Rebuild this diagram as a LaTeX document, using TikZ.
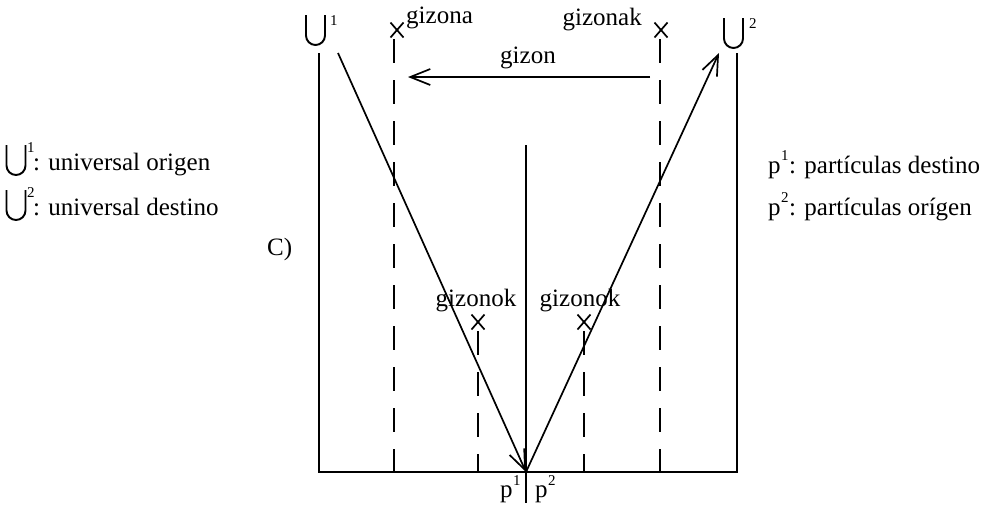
\documentclass[tikz,border=0pt]{standalone}
\usepackage{fontspec}
\setmainfont{Liberation Serif}
\usetikzlibrary{arrows.meta}
\begin{document}
\begin{tikzpicture}[x=1pt,y=-1pt,
  lbl/.style={inner sep=0pt, font=\fontsize{25}{30}\selectfont},
  supr/.style={inner sep=0pt, font=\fontsize{15}{18}\selectfont},
  ln/.style={line width=1.7pt},
  dsh/.style={line width=1.7pt, dash pattern=on 24pt off 17pt},
  arr/.style={line width=1.7pt, -{Straight Barb[length=20pt,width=16pt,line width=1.7pt]}},
  cupsym/.pic={\draw[line width=1.9pt] (-9.5,-15) -- (-9.5,5.5) arc[start angle=180,end angle=0,radius=9.5] -- (9.5,-15);},
  xmark/.pic={\draw[line width=1.7pt] (-6.5,-7.5) -- (6.5,7.5) (-6.5,7.5) -- (6.5,-7.5);}
]
\useasboundingbox (0,0) rectangle (998,507);

% legend left
\pic at (16,160) {cupsym};
\node[supr, anchor=base west] (s1a) at (27,152) {1};
\node[lbl, anchor=base west] (legA) at (33,170) {: universal origen};
\pic at (16,205) {cupsym};
\node[supr, anchor=base west] (s2a) at (27,197) {2};
\node[lbl, anchor=base west] (legB) at (33,215) {: universal destino};
\node[lbl, anchor=base west] (C) at (267,255) {C)};

% legend right
\node[lbl, anchor=base west] (pA) at (768,173) {p};
\node[supr, anchor=base west] (psA) at (781,160) {1};
\node[lbl, anchor=base west] (legC) at (789,173) {: partículas destino};
\node[lbl, anchor=base west] (pB) at (768,215) {p};
\node[supr, anchor=base west] (psB) at (781,202) {2};
\node[lbl, anchor=base west] (legD) at (789,215) {: partículas orígen};

% universals
\pic at (315.5,30) {cupsym};
\node[supr, anchor=base west] (u1s) at (330,25) {1};
\pic at (733.5,33) {cupsym};
\node[supr, anchor=base west] (u2s) at (749,28) {2};

% frame
\coordinate (LT) at (319,53);
\coordinate (LB) at (319,472);
\coordinate (RT) at (737,53);
\coordinate (RB) at (737,472);
\draw[ln] (LT) -- (LB) -- (RB) -- (RT);

% centre
\coordinate (P) at (526,472);
\coordinate (CT) at (526,145);
\coordinate (CB) at (526,503);
\draw[ln] (CT) -- (CB);

% diagonals
\coordinate (DA) at (338,53);
\coordinate (DB) at (719,53);
\draw[arr] (DA) -- (P);
\draw[arr] (P) -- (DB);

% gizona
\pic at (397,30) {xmark};
\node[lbl, anchor=base west] (gizona) at (406,23) {gizona};
\coordinate (GaT) at (394,39);
\coordinate (GaB) at (394,472);
\draw[dsh] (GaT) -- (GaB);

% gizonak
\pic at (661,30) {xmark};
\node[lbl, anchor=base east] (gizonak) at (642,25) {gizonak};
\coordinate (GkT) at (660,39);
\coordinate (GkB) at (660,472);
\draw[dsh] (GkT) -- (GkB);

% gizon arrow
\coordinate (GA) at (650,77);
\coordinate (GB) at (408,77);
\draw[arr] (GA) -- (GB);
\node[lbl, anchor=base] (gizon) at (528,63) {gizon};

% gizonok left
\pic at (478,322) {xmark};
\node[lbl, anchor=base] (gzL) at (476,306) {gizonok};
\coordinate (GLT) at (478,331);
\coordinate (GLB) at (478,472);
\draw[dsh] (GLT) -- (GLB);

% gizonok right
\pic at (584,322) {xmark};
\node[lbl, anchor=base] (gzR) at (580,306) {gizonok};
\coordinate (GRT) at (584,331);
\coordinate (GRB) at (584,472);
\draw[dsh] (GRT) -- (GRB);

% p labels
\node[lbl, anchor=base west] (p1) at (500,497) {p};
\node[supr, anchor=base west] (p1s) at (513,485) {1};
\node[lbl, anchor=base west] (p2) at (535,497) {p};
\node[supr, anchor=base west] (p2s) at (548,485) {2};
\end{tikzpicture}
\end{document}
